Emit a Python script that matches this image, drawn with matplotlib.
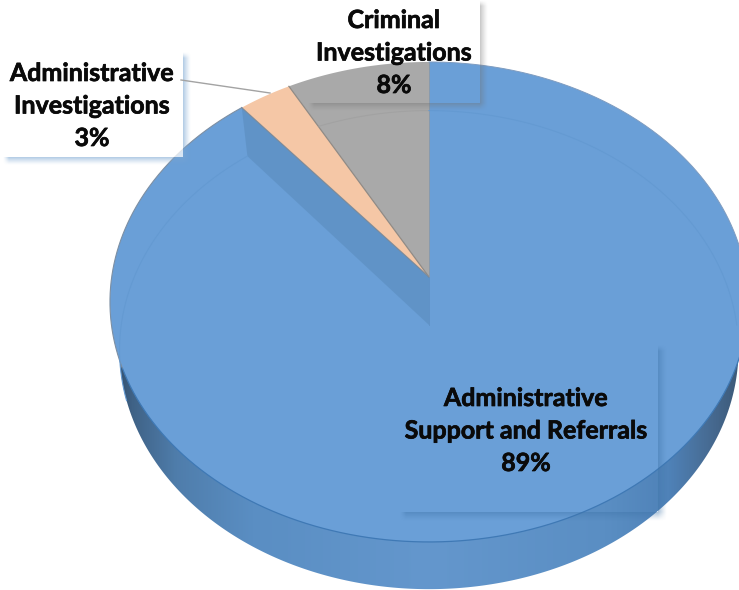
import numpy as np
import matplotlib
matplotlib.use("Agg")
import matplotlib.pyplot as plt
import matplotlib.patheffects as pe
from matplotlib.patches import Polygon, Rectangle
from matplotlib.colors import LinearSegmentedColormap, to_rgb

plt.rcParams['font.family'] = ['Lato', 'DejaVu Sans']

# slices run counter clockwise from 12 o'clock
categories = ["Criminal\nInvestigations", "Administrative\nInvestigations", "Administrative\nSupport and Referrals"]
shares = [8, 3, 89]
slice_colors = ["#A9A9A9", "#F5C7A6", "#6A9FD7"]

# view of the tilted disc, in pixels
CX = 429
TOP_Y, BOTTOM_Y = 277, 325
FX, FY, PERSP = 317.3, 237.4, 0.104
BASE_FX, BASE_FY = 0.97, 0.997


def project(theta, level=0):
    # level 0 is the top face, level 1 the floor of the disc
    d = 1 + PERSP * np.cos(theta)
    if level == 0:
        return CX - FX * np.sin(theta) / d, TOP_Y - FY * np.cos(theta) / d
    return CX - BASE_FX * FX * np.sin(theta) / d, BOTTOM_Y - BASE_FY * FY * np.cos(theta) / d


def soft_shadow(ax, x0, y0, x1, y1, color, size=8, strength=0.5):
    # blurred drop shadow, only outside the box itself
    xs = np.arange(x0, x1 + size) + 0.5
    ys = np.arange(y0, y1 + size) + 0.5
    xx, yy = np.meshgrid(xs, ys)
    alpha = np.clip((x1 + size - xx) / size, 0, 1) * np.clip((y1 + size - yy) / size, 0, 1)
    alpha *= np.clip((xx - x0) / 6, 0, 1) * np.clip((yy - y0) / 6, 0, 1)
    alpha = strength * alpha ** 1.3
    alpha[(xx < x1) & (yy < y1)] = 0
    rgba = np.zeros(alpha.shape + (4,))
    rgba[..., :3] = to_rgb(color)
    rgba[..., 3] = alpha
    ax.imshow(rgba, extent=[x0, x1 + size, y1 + size, y0], aspect="auto", zorder=6, interpolation="bilinear")


fig = plt.figure(figsize=(7.39, 5.9), dpi=100)
ax = fig.add_axes([0, 0, 1, 1])
ax.axis("off")

t = np.linspace(0, 2 * np.pi, 721)

# side wall, shaded from the edges towards the middle
bx, by = project(t, 1)
wall = Polygon(np.column_stack([bx, by]), fc="none", ec="none")
ax.add_patch(wall)
wall_cmap = LinearSegmentedColormap.from_list("wall", [
    (0.0, "#2f4a66"), (0.03, "#3f6286"), (0.10, "#4f7dab"), (0.22, "#5a8ec3"), (0.5, "#6497cd"),
    (0.78, "#5a8ec3"), (0.88, "#4f82b8"), (0.95, "#46698f"), (1.0, "#3a5572")])
grad = np.linspace(0, 1, 256).reshape(1, -1)
im = ax.imshow(grad, extent=[112, 746, 590, 300], cmap=wall_cmap, aspect="auto", zorder=1)
im.set_clip_path(wall)

# top face slices
start = 0.0
edges = [0.0]
for share, color in zip(shares, slice_colors):
    end = start + share / sum(shares) * 2 * np.pi
    a = np.linspace(start, end, 300)
    x, y = project(a)
    pts = np.column_stack([np.r_[CX, x], np.r_[TOP_Y, y]])
    ax.add_patch(Polygon(pts, fc=color, ec="none", zorder=2))
    start = end
    edges.append(end)

# seams between slices and the front rim
for e, c in zip(edges[1:3], ["#8f8a85", "#8a8f96"]):
    x, y = project(e)
    ax.plot([CX, x], [TOP_Y, y], color=c, lw=0.9, zorder=3)
ax.plot([CX, CX], [project(0)[1], TOP_Y], color="#8f9aa5", lw=0.6, zorder=3)

front = np.linspace(np.pi * 0.62, np.pi * 1.45, 300)
fx, fy = project(front)
ax.plot(fx, fy, color="#3f79b5", lw=0.9, zorder=3)
back_l = np.linspace(edges[2], np.pi * 0.62, 200)
lx, ly = project(back_l)
ax.plot(lx, ly, color="#7d8fa3", lw=0.8, zorder=3)
back_r = np.linspace(-np.pi * 0.55, 0, 200)
rx, ry = project(back_r)
ax.plot(rx, ry, color="#7f9cc0", lw=0.7, zorder=3)

# inner wall of the big slice seen through the top face
ex, ey = project(edges[2])
ex1, ey1 = project(edges[2], 1)
cut = [[ex, ey], [CX, TOP_Y], [CX, BOTTOM_Y], [ex1, ey1]]
ax.add_patch(Polygon(cut, fc="#4f7fab", ec="none", alpha=0.35, zorder=3))
ax.plot([CX, CX], [TOP_Y, BOTTOM_Y], color="#5f90c4", lw=0.6, zorder=3)

# rim of the floor, faintly visible through the slices
floor_parts = [np.linspace(0, edges[1] * 0.8, 100), np.linspace(edges[2], np.pi * 0.6, 200), np.linspace(-np.pi * 0.5, 0, 200)]
for part, c in zip(floor_parts, ["#a2a2a2", "#649ad2", "#649ad2"]):
    x, y = project(part, 1)
    ax.plot(x, y, color=c, lw=0.8, zorder=3)

# label boxes
ax.add_patch(Rectangle((3, 52), 180, 105, fc="white", ec="none", alpha=0.75, zorder=5))
soft_shadow(ax, 3, 52, 183, 157, "#7aa6d2", size=8, strength=0.6)
soft_shadow(ax, 308, 0, 480, 103, "#6f6f6f", size=8, strength=0.4)
soft_shadow(ax, 400, 345, 658, 512, "#3f74a8", size=9, strength=0.45)

# leader line
ax.plot([181, 270], [80, 93], color="#a3a3a3", lw=1.0, zorder=7)

label_x = [394, 92, 526]
label_y = [53, 106, 431]
for name, share, lx_, ly_ in zip(categories, shares, label_x, label_y):
    ax.text(lx_, ly_, f"{name}\n{share}%", ha="center", va="center", fontsize=18,
            fontweight="bold", color="#0a0a0a", linespacing=1.5, zorder=8,
            path_effects=[pe.withStroke(linewidth=0.5, foreground="#0a0a0a")])

ax.set_xlim(0, 739)
ax.set_ylim(590, 0)

fig.savefig("out.png", dpi=100)
